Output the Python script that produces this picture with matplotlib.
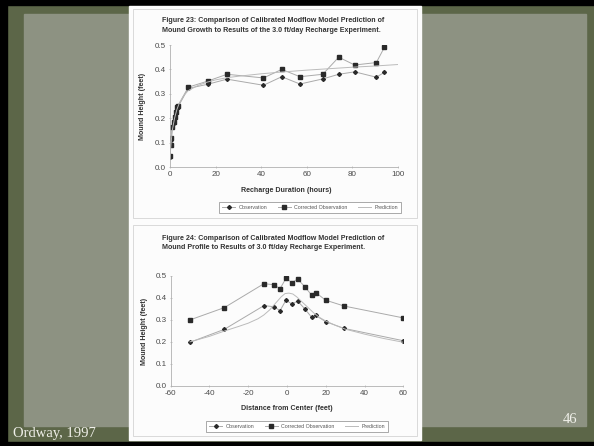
import matplotlib
matplotlib.use('Agg')
import matplotlib.pyplot as plt
from matplotlib.patches import Rectangle
from matplotlib.ticker import FormatStrFormatter

plt.rcParams['font.family'] = ['Liberation Sans', 'DejaVu Sans']
plt.rcParams['axes.unicode_minus'] = False

# Figure 23: mound growth vs time
t_obs = [0, 0.3, 0.5, 1, 1.6, 2.2, 2.8, 3.2, 3.6, 8, 16.5, 25, 41, 49, 57, 67, 74, 81, 90.5, 94]
h_obs = [0.042, 0.09, 0.112, 0.162, 0.182, 0.203, 0.222, 0.24, 0.248, 0.322, 0.339, 0.36, 0.335, 0.37, 0.34, 0.361, 0.38, 0.39, 0.368, 0.388]
h_cor = [0.045, 0.092, 0.118, 0.164, 0.185, 0.206, 0.226, 0.245, 0.252, 0.327, 0.352, 0.38, 0.365, 0.4, 0.37, 0.38, 0.45, 0.418, 0.428, 0.49]
t_pred = [0, 0.5, 1, 2, 3, 4, 6, 8, 12, 16, 20, 25, 30, 40, 50, 60, 70, 80, 90, 100]
h_pred = [0.04, 0.1, 0.15, 0.2, 0.235, 0.26, 0.293, 0.313, 0.333, 0.347, 0.357, 0.366, 0.372, 0.382, 0.39, 0.397, 0.403, 0.409, 0.414, 0.42]

# Figure 24: mound profile
d_obs = [-50, -32.3, -11.9, -6.7, -3.6, -0.5, 2.5, 5.5, 9.2, 12.7, 14.9, 19.9, 29.5, 60]
p_obs = [0.198, 0.257, 0.365, 0.36, 0.342, 0.39, 0.372, 0.386, 0.35, 0.312, 0.32, 0.292, 0.261, 0.205]
p_cor = [0.3, 0.356, 0.465, 0.46, 0.442, 0.49, 0.47, 0.486, 0.451, 0.413, 0.424, 0.39, 0.363, 0.309]
d_pred = [-50, -40, -32, -25, -20, -15, -12, -9, -6, -3, -1, 1, 3, 5, 8, 11, 14, 17, 20, 25, 30, 40, 50, 60]
p_pred = [0.2, 0.225, 0.25, 0.27, 0.285, 0.305, 0.322, 0.345, 0.375, 0.405, 0.42, 0.422, 0.418, 0.405, 0.38,
          0.355, 0.33, 0.31, 0.295, 0.275, 0.258, 0.235, 0.215, 0.198]

W, H = 594, 446
fig = plt.figure(figsize=(W / 100, H / 100), dpi=100)

# slide background, drawn in pixel coordinates
bg = fig.add_axes([0, 0, 1, 1])
bg.set_xlim(0, W)
bg.set_ylim(H, 0)
bg.axis('off')
bg.add_patch(Rectangle((0, 0), W, H, color='#5c6648'))
bg.add_patch(Rectangle((24, 14), 562, 412, color='#8d9282'))
bg.add_patch(Rectangle((0, 0), W, 5, color='black'))
bg.add_patch(Rectangle((0, 0), 7, H, color='black'))
bg.add_patch(Rectangle((0, 442), W, 4, color='black'))
bg.add_patch(Rectangle((129, 6), 292, 434, color='#fcfcfc'))
bg.add_patch(Rectangle((133, 9), 284, 209, fill=False, ec='#d4d4d4', lw=0.6))
bg.add_patch(Rectangle((133, 225), 284, 211, fill=False, ec='#d4d4d4', lw=0.6))

bg.text(13, 437, 'Ordway, 1997', color='#f0f0ea', fontsize=10.5, family='Liberation Serif', va='baseline')
bg.text(570, 423, '46', color='#f0f0ea', fontsize=10.5, family='Liberation Serif', va='baseline', ha='center')

tk = dict(fontsize=5.1, fontweight='bold', color='#333333')
bg.text(162, 20, 'Figure 23: Comparison of Calibrated Modflow Model Prediction of', va='center', **tk)
bg.text(162, 30, 'Mound Growth to Results of the 3.0 ft/day Recharge Experiment.', va='center', **tk)
bg.text(286, 190, 'Recharge Duration (hours)', ha='center', va='center', **tk)
bg.text(143, 106, 'Mound Height (feet)', ha='center', va='center', rotation=90, **tk)

bg.text(162, 239, 'Figure 24: Comparison of Calibrated Modflow Model Prediction of', va='center', **tk)
bg.text(162, 247.5, 'Mound Profile to Results of 3.0 ft/day Recharge Experiment.', va='center', **tk)
bg.text(287, 409, 'Distance from Center (feet)', ha='center', va='center', **tk)
bg.text(145, 331, 'Mound Height (feet)', ha='center', va='center', rotation=90, **tk)


def style(ax):
    for s in ['top', 'right']:
        ax.spines[s].set_visible(False)
    for s in ['left', 'bottom']:
        ax.spines[s].set_color('#b0b0b0')
        ax.spines[s].set_linewidth(0.6)
    ax.set_facecolor('none')
    ax.tick_params(labelsize=5.8, colors='#b0b0b0', labelcolor='#4a4a4a', length=2, width=0.5,
                   direction='inout', pad=2)
    ax.yaxis.set_major_formatter(FormatStrFormatter('%.1f'))


line_kw = dict(color='#aaaaaa', lw=0.7, mfc='#2a2a2a', mec='#2a2a2a')

ax1 = fig.add_axes([170 / W, 1 - 167 / H, 228 / W, 122 / H])
ax1.plot(t_obs, h_obs, marker='D', ms=2.0, label='Observation', **line_kw)
ax1.plot(t_obs, h_cor, marker='s', ms=2.5, label='Corrected Observation', **line_kw)
ax1.plot(t_pred, h_pred, color='#bbbbbb', lw=0.7, label='Prediction')
ax1.set_xlim(0, 100)
ax1.set_ylim(0, 0.5)
ax1.set_xticks(range(0, 101, 20))
ax1.set_yticks([0, 0.1, 0.2, 0.3, 0.4, 0.5])
style(ax1)

ax2 = fig.add_axes([170.7 / W, 1 - 385.7 / H, 232.6 / W, 109.7 / H])
ax2.plot(d_obs, p_obs, marker='D', ms=2.0, label='Observation', **line_kw)
ax2.plot(d_obs, p_cor, marker='s', ms=2.5, label='Corrected Observation', **line_kw)
ax2.plot(d_pred, p_pred, color='#bbbbbb', lw=0.7, label='Prediction')
ax2.set_xlim(-60, 60)
ax2.set_ylim(0, 0.5)
ax2.set_xticks(range(-60, 61, 20))
ax2.set_yticks([0, 0.1, 0.2, 0.3, 0.4, 0.5])
style(ax2)

for ax, (cx, cy) in [(ax1, (310, 207.5)), (ax2, (297, 426.5))]:
    leg = ax.legend(loc='center', bbox_to_anchor=(cx / W, 1 - cy / H), bbox_transform=fig.transFigure,
                    ncol=3, fontsize=3.8, fancybox=False, edgecolor='#888888', borderpad=0.5,
                    handlelength=2.5, columnspacing=2.0, handletextpad=0.6, framealpha=1)
    leg.get_frame().set_linewidth(0.5)
    for t in leg.get_texts():
        t.set_color('#555555')

fig.savefig('out.png', dpi=100)
